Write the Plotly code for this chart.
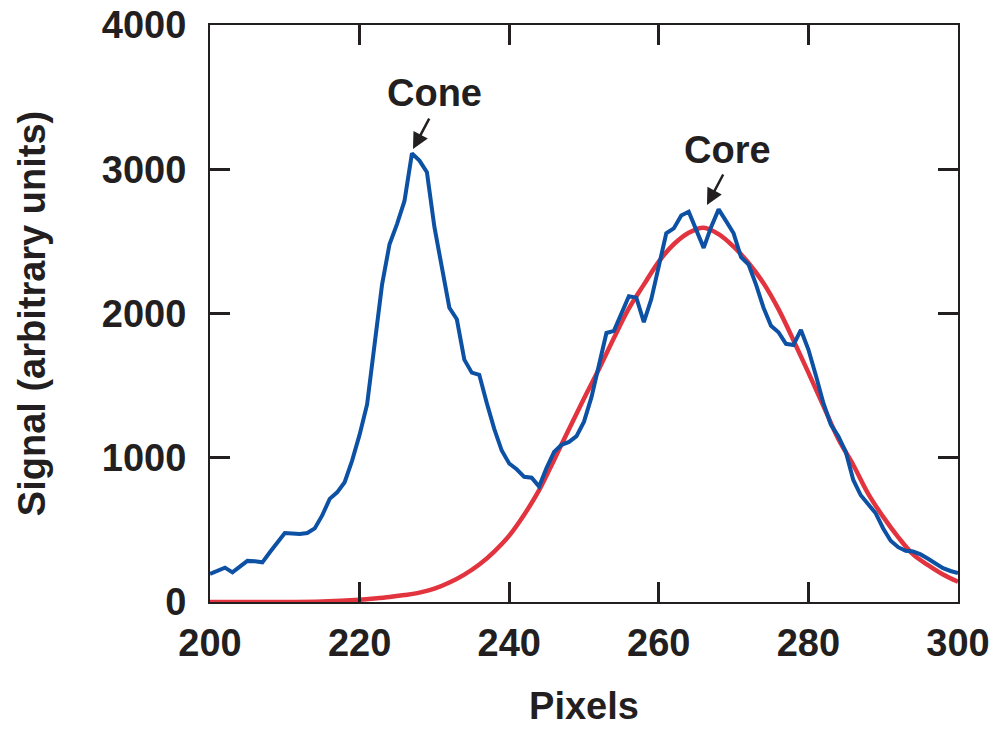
import plotly.graph_objects as go

# ---- data ----
pixels = list(range(200, 301))
signal = [195, 215, 238, 205, 245, 285, 282, 275, 345, 410,
          478, 475, 472, 478, 510, 600, 715, 760, 830, 980,
          1160, 1370, 1800, 2200, 2480, 2620, 2780, 3110, 3060, 2980,
          2600, 2300, 2040, 1960, 1680, 1590, 1575, 1380, 1200, 1050,
          960, 920, 868, 862, 800, 930, 1040, 1090, 1110, 1150,
          1250, 1420, 1650, 1865, 1880, 2000, 2120, 2110, 1940, 2100,
          2330, 2556, 2590, 2680, 2705, 2580, 2455, 2600, 2722, 2640,
          2556, 2390, 2340, 2200, 2040, 1915, 1870, 1790, 1782, 1886,
          1750, 1570, 1380, 1230, 1150, 1040, 846, 740, 680, 615,
          510, 425, 380, 355, 350, 330, 300, 265, 235, 215, 200]

fit_x = [200, 205, 210, 215, 220, 222, 224, 226, 228, 230, 232, 234, 236, 238,
         240, 242, 244, 246, 248, 250, 252, 254, 256, 258, 260, 262, 264, 266,
         268, 270, 272, 274, 276, 278, 280, 282, 284, 286, 288, 290, 292, 294,
         296, 298, 300]
fit_y = [0, 0, 0, 4, 16, 24, 34, 48, 65, 92, 135, 190, 260, 350,
         460, 605, 775, 985, 1200, 1410, 1615, 1830, 2035, 2200, 2360, 2480, 2560, 2595,
         2550, 2463, 2350, 2210, 2030, 1815, 1590, 1360, 1130, 950, 750, 590, 450, 330,
         255, 190, 140]

labels = ["Cone", "Core"]
label_x = [229.95, 269.25]
label_y = [3529, 3133]
arrow_x = [227.14, 266.44]
arrow_y = [3140, 2752]

x_ticks = [200, 220, 240, 260, 280, 300]
y_ticks = [0, 1000, 2000, 3000, 4000]

BLUE = "#0D51A5"
RED = "#E2343F"
INK = "#231F20"
FONT = "Liberation Sans"

fig = go.Figure()
fig.add_trace(go.Scatter(x=fit_x, y=fit_y, mode="lines", line_shape="spline",
                         line=dict(color=RED, width=4.5), showlegend=False))
fig.add_trace(go.Scatter(x=pixels, y=signal, mode="lines",
                         line=dict(color=BLUE, width=4), showlegend=False))

for t, tx, ty in zip(labels, label_x, label_y):
    fig.add_annotation(x=tx, y=ty, text="<b>%s</b>" % t, showarrow=False,
                       font=dict(family=FONT, size=38, color=INK),
                       xanchor="center", yanchor="middle")
for hx, hy in zip(arrow_x, arrow_y):
    fig.add_annotation(x=hx, y=hy, text="", showarrow=True, ax=17, ay=-32,
                       arrowhead=2, arrowsize=1.3, arrowwidth=2.5,
                       arrowcolor=INK)

axis_common = dict(showline=True, linecolor=INK, linewidth=2, mirror="ticks",
                   ticks="inside", ticklen=20, tickwidth=3, tickcolor=INK,
                   showgrid=False, zeroline=False, automargin=False,
                   tickfont=dict(family=FONT, size=38, color=INK))

fig.update_xaxes(range=[200, 300], tickvals=x_ticks,
                 ticktext=["<b>%d</b>" % v for v in x_ticks],
                 ticklabelstandoff=6,
                 title=dict(text="<b>Pixels</b>", font=dict(family=FONT, size=38, color=INK),
                            standoff=30),
                 **axis_common)
fig.update_yaxes(range=[0, 4000], tickvals=y_ticks,
                 ticktext=["<b>%d</b>" % v for v in y_ticks],
                 ticklabelstandoff=14,
                 title=dict(text="<b>Signal (arbitrary units)</b>",
                            font=dict(family=FONT, size=38, color=INK), standoff=45),
                 **axis_common)

fig.update_layout(width=1006, height=730,
                  margin=dict(l=210, r=48, t=25, b=128),
                  plot_bgcolor="white", paper_bgcolor="white")

fig.write_html("out.html")
